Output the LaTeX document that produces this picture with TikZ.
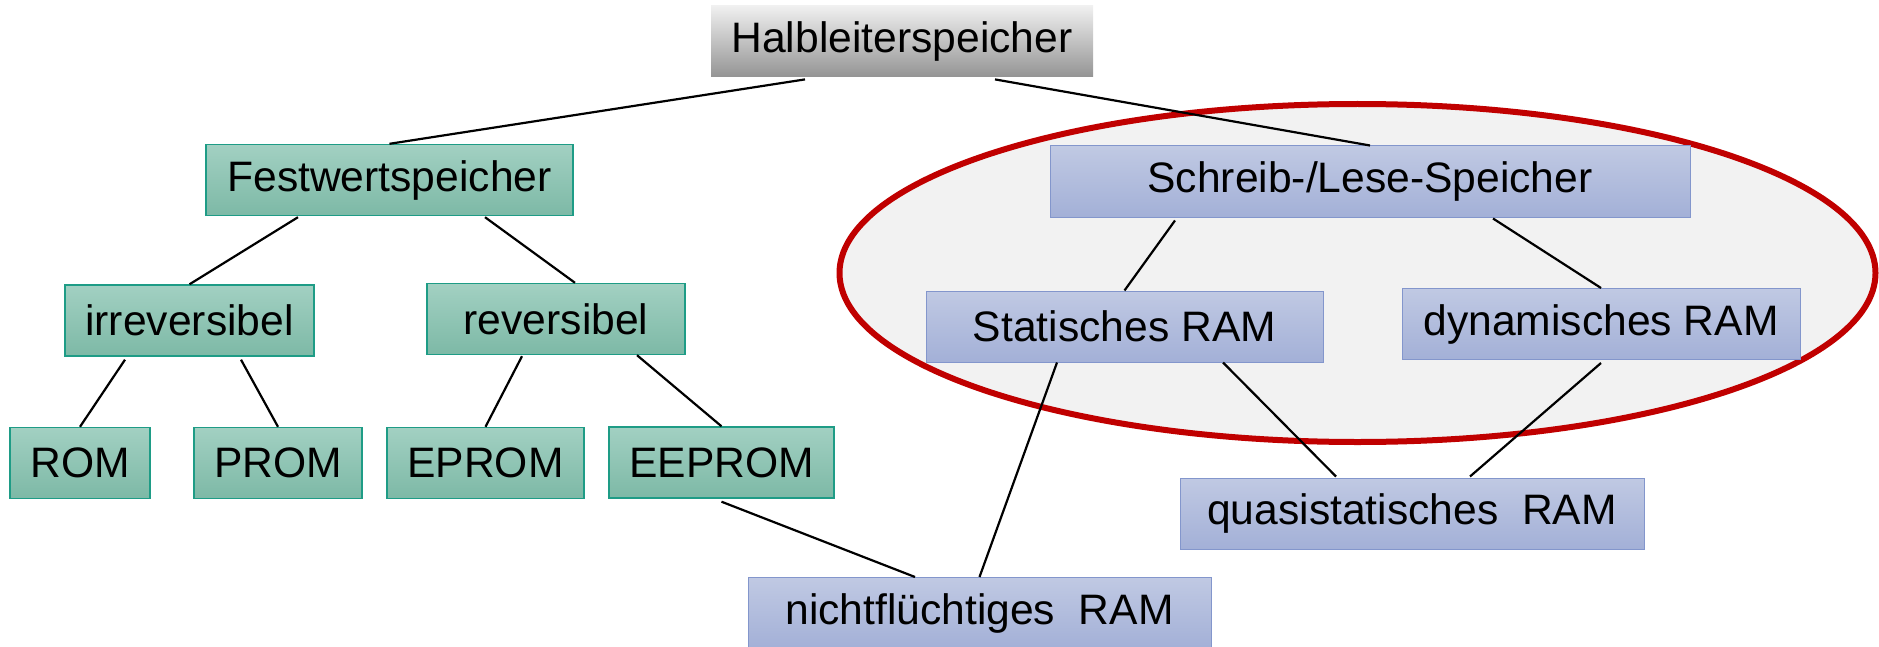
\documentclass[tikz,border=0pt]{standalone}
\usepackage{fontspec}
\setmainfont{Liberation Sans}
\definecolor{grtop}{HTML}{A2D0C2}
\definecolor{grbot}{HTML}{7DB9A6}
\definecolor{grline}{HTML}{1E9C86}
\definecolor{bltop}{HTML}{C0C9E3}
\definecolor{blbot}{HTML}{A3B0D7}
\definecolor{blline}{HTML}{8396CC}
\definecolor{ovalred}{HTML}{C00000}
\tikzset{
  box/.style={rectangle,inner sep=0pt,minimum height=35.5pt,font=\fontsize{21.3}{25}\selectfont},
  grey/.style={box,top color=black!6,bottom color=black!42},
  green/.style={box,draw=grline,line width=0.7pt,top color=grtop,bottom color=grbot},
  blue/.style={box,draw=blline,line width=0.5pt,top color=bltop,bottom color=blbot},
  edge/.style={draw=black,line width=1.1pt},
}

\begin{document}
\begin{tikzpicture}[x=0.5pt,y=-0.5pt]
  \useasboundingbox (0,0) rectangle (1879,647);
  % highlighted group: the read/write memories
  \draw[ovalred,line width=3pt,fill=black!5] (1357.5,273) ellipse [x radius=259pt,y radius=84.5pt];

  \node[grey,minimum width=191pt] (halb) at (902,41.5){Halbleiterspeicher};
  \node[green,minimum width=183.5pt] (fest) at (389.5,180){Festwertspeicher};
  \node[blue,minimum width=320pt] (schreib) at (1370,181.5){Schreib-/Lese-Speicher};
  \node[green,minimum width=124.5pt] (irrev) at (189.5,320.5){irreversibel};
  \node[green,minimum width=129pt] (rev) at (556,319){reversibel};
  \node[blue,minimum width=198.5pt] (stat) at (1124.5,326.5){Statisches RAM};
  \node[blue,minimum width=199pt] (dyn) at (1601,324){dynamisches RAM};
  \node[green,minimum width=70pt] (rom) at (80,463){ROM};
  \node[green,minimum width=84pt] (prom) at (278,463){PROM};
  \node[green,minimum width=98.5pt] (eprom) at (485.5,463){EPROM};
  \node[green,minimum width=112.5pt] (eeprom) at (721.5,462.5){EEPROM};
  \node[blue,minimum width=232pt] (quasi) at (1412,513.5){quasistatisches\ \ RAM};
  \node[blue,minimum width=231.5pt] (nicht) at (979.5,613){nichtflüchtiges\ \ RAM};

  \draw[edge] ([shift={(-97,2)}]halb.south) -- (fest.north);
  \draw[edge] ([shift={(93,2)}]halb.south) -- (schreib.north);
  \draw[edge] ([shift={(-91.5,1)}]fest.south) -- (irrev.north);
  \draw[edge] ([shift={(95.5,1)}]fest.south) -- ([shift={(19,0)}]rev.north);
  \draw[edge] ([shift={(-195,3)}]schreib.south) -- (stat.north);
  \draw[edge] ([shift={(123,1)}]schreib.south) -- (dyn.north);
  \draw[edge] ([shift={(-64.5,3)}]irrev.south) -- (rom.north);
  \draw[edge] ([shift={(51.5,3)}]irrev.south) -- (prom.north);
  \draw[edge] ([shift={(-34,1)}]rev.south) -- (eprom.north);
  \draw[edge] ([shift={(81,0)}]rev.south) -- (eeprom.north);
  \draw[edge] ([shift={(98.5,0)}]stat.south) -- ([shift={(-76,-1)}]quasi.north);
  \draw[edge] ([shift={(0,3)}]dyn.south) -- ([shift={(58,-1)}]quasi.north);
  \draw[edge] ([shift={(-67.5,0)}]stat.south) -- (nicht.north);
  \draw[edge] ([shift={(0,3)}]eeprom.south) -- ([shift={(-64.5,0)}]nicht.north);
\end{tikzpicture}
\end{document}
